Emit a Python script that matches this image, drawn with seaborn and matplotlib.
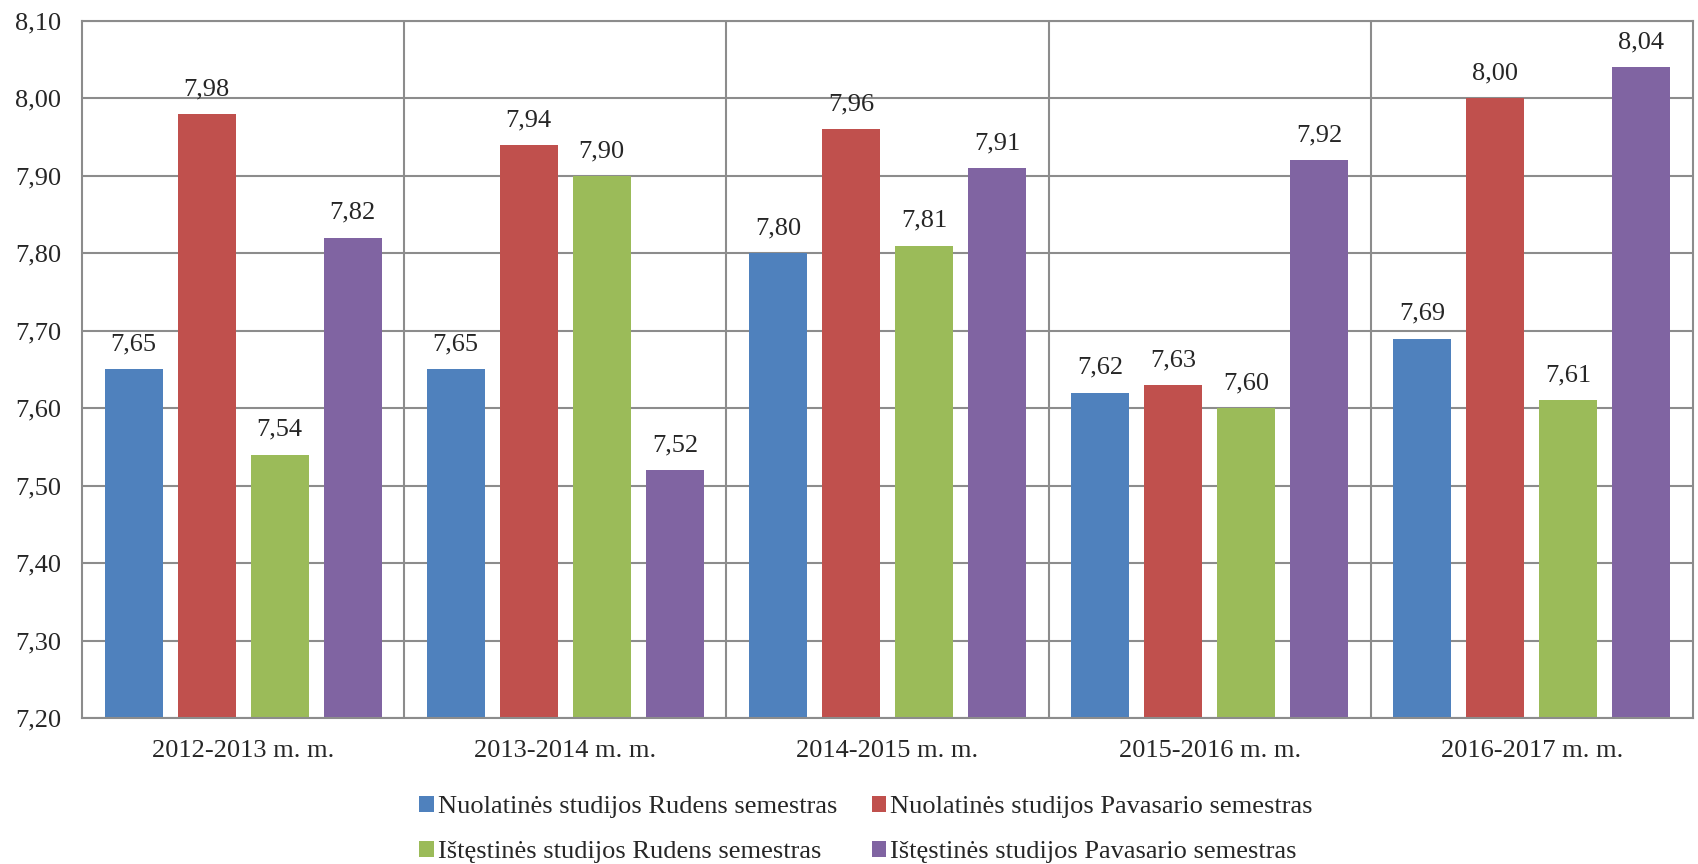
import numpy as np
import pandas as pd
import matplotlib
matplotlib.use("Agg")
import matplotlib.pyplot as plt
import seaborn as sns
from matplotlib.ticker import FuncFormatter

# ------- data -------
years  = ["2012-2013 m. m.", "2013-2014 m. m.", "2014-2015 m. m.", "2015-2016 m. m.", "2016-2017 m. m."]
series = ["Nuolatinės studijos Rudens semestras",
          "Nuolatinės studijos Pavasario semestras",
          "Ištęstinės studijos Rudens semestras",
          "Ištęstinės studijos Pavasario semestras"]
nuol_ruduo     = [7.65, 7.65, 7.80, 7.62, 7.69]
nuol_pavasaris = [7.98, 7.94, 7.96, 7.63, 8.00]
ist_ruduo      = [7.54, 7.90, 7.81, 7.60, 7.61]
ist_pavasaris  = [7.82, 7.52, 7.91, 7.92, 8.04]
colors = ["#4F81BD", "#C0504D", "#9BBB59", "#8064A2"]

vals = [nuol_ruduo, nuol_pavasaris, ist_ruduo, ist_pavasaris]
rows = []
for s, v in zip(series, vals):
    for y, x in zip(years, v):
        rows.append({"year": y, "series": s, "value": x})
df = pd.DataFrame(rows)

# ------- style -------
sns.set_style("white")
plt.rcParams["font.family"] = ["Liberation Serif", "DejaVu Serif"]
fs = 19

fig = plt.figure(figsize=(16.98, 8.64), dpi=100)
ax = fig.add_axes([0.0483, 0.169, 0.9487, 0.8067])

sns.barplot(data=df, x="year", y="value", hue="series", hue_order=series,
            palette=colors, width=0.907, gap=0.206, ax=ax, saturation=1,
            linewidth=0, legend=True)

ax.set_ylim(7.20, 8.10)
ax.set_yticks(np.arange(7.20, 8.101, 0.10))
ax.yaxis.set_major_formatter(FuncFormatter(lambda v, p: f"{v:.2f}".replace(".", ",")))
ax.set_xlim(-0.5, len(years) - 0.5)
ax.set_xlabel("")
ax.set_ylabel("")

# gridlines + group separators
grid_col = "#8c8c8c"
ax.yaxis.grid(True, color=grid_col, lw=1.5)
for xs in np.arange(0.5, len(years) - 0.5, 1):
    ax.axvline(xs, color=grid_col, lw=1.5, zorder=0.5)
ax.set_axisbelow(True)
for sp in ax.spines.values():
    sp.set_color(grid_col)
    sp.set_linewidth(1.5)
    sp.set_visible(True)

ax.tick_params(axis="both", length=0, labelsize=fs)
ax.tick_params(axis="y", pad=15)
ax.tick_params(axis="x", pad=16)

# value labels
for cont in ax.containers:
    ax.bar_label(cont, labels=[f"{b.get_height():.2f}".replace(".", ",") for b in cont],
                 padding=10, fontsize=fs)

# legend at the bottom, filled row by row
handles, labels = ax.get_legend_handles_labels()
ax.get_legend().remove()
order = [0, 2, 1, 3]
fig.legend([handles[i] for i in order], [labels[i] for i in order],
           loc="upper center", bbox_to_anchor=(0.51, 0.106),
           ncol=2, frameon=False, fontsize=fs, handlelength=0.55, handleheight=0.55,
           handletextpad=0.15, columnspacing=1.3, labelspacing=0.85)

plt.savefig("out.png", dpi=100)
